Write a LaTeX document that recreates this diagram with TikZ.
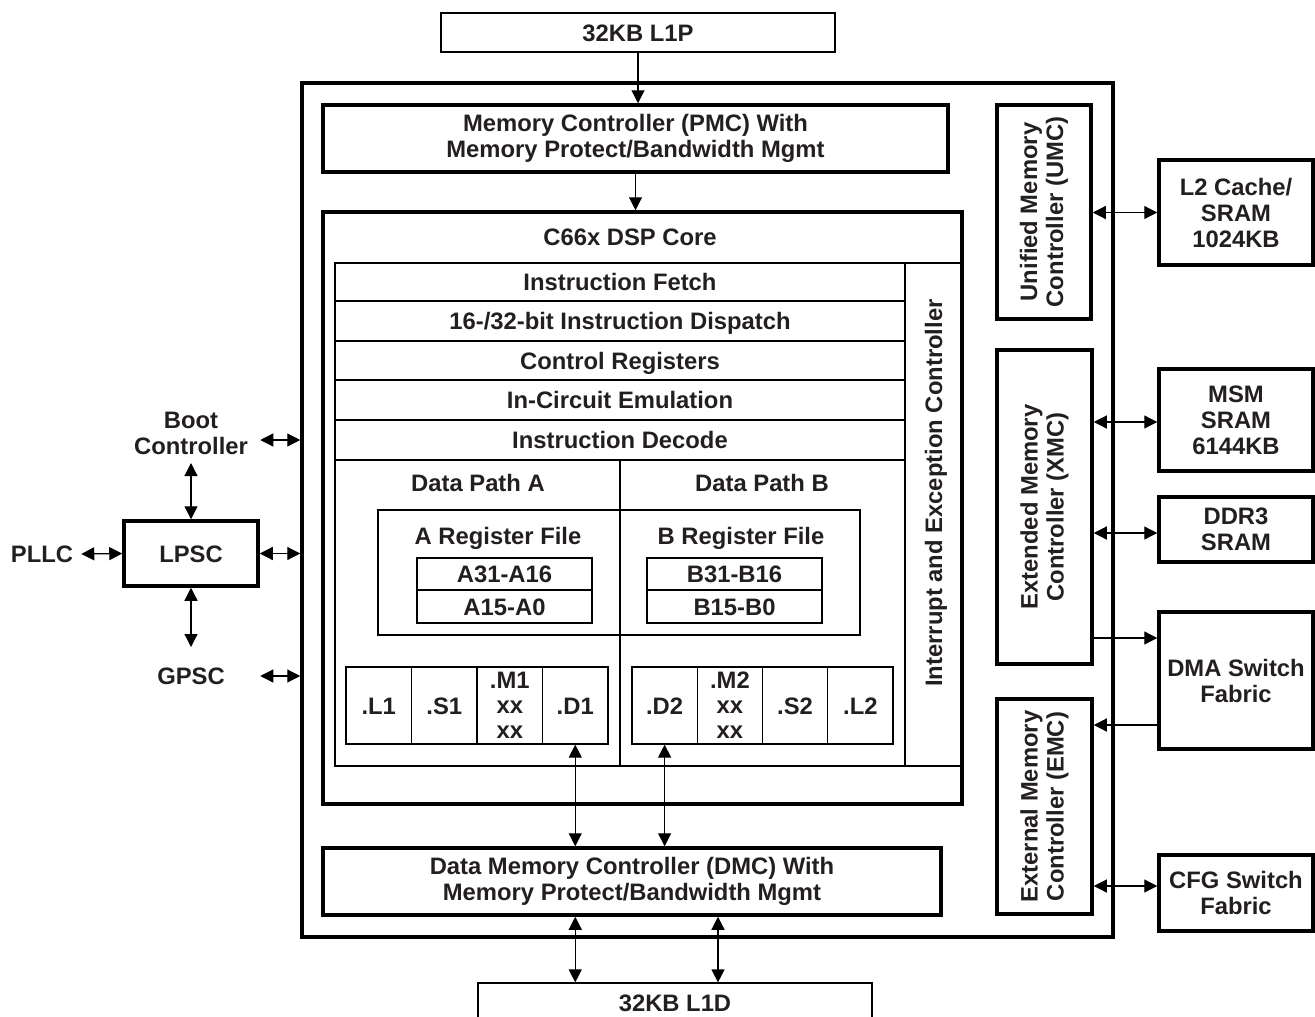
\documentclass[tikz,border=0pt]{standalone}
\usepackage{fontspec}
\setmainfont{Liberation Sans}
\usetikzlibrary{arrows.meta,calc}
\definecolor{ink}{HTML}{231F20}
\begin{document}
\begin{tikzpicture}[x=1pt,y=-1pt,
  every node/.style={font=\fontsize{23.8}{26}\selectfont\bfseries, text=ink, inner sep=0pt},
  sl/.style={text height=17pt, text depth=0pt},
  thickbox/.style={draw=black, line width=3.5pt, align=center},
  thinbox/.style={draw=black, line width=1.2pt, align=center},
  lbl/.style={align=center},
  rot/.style={rotate=90, align=center},
  thinline/.style={draw=black, line width=1.2pt},
  arr/.style={line width=1.2pt, -{Triangle[length=13pt,width=13pt]}},
  dbl/.style={line width=1.2pt, {Triangle[length=13pt,width=13pt]}-{Triangle[length=13pt,width=13pt]}},
]
\useasboundingbox (0,0) rectangle (1315,1017);
\clip (0,0) rectangle (1315,1017);

% top memory
\node[thinbox, sl, minimum width=394pt, minimum height=39pt] (l1p) at (638,32.5) {32KB L1P};

% outer box
\node[thickbox, minimum width=811pt, minimum height=854pt] (outer) at (707.5,510) {};

% PMC
\node[thickbox, minimum width=625pt, minimum height=67pt] (pmc) at (635.5,138.5) {Memory Controller (PMC) With\\Memory Protect/Bandwidth Mgmt};

% core
\node[thickbox, minimum width=639pt, minimum height=592pt] (core) at (642.5,508) {};
\node[sl] (coretitle) at (630,237) {C66x DSP Core};
\node[thinbox, minimum width=627pt, minimum height=503pt] (inner) at (648.5,514.5) {};
\draw[thinline] (905,263) -- (905,766);
\draw[thinline] (620,460) -- (620,766);

% rows
\node[thinbox, sl, minimum width=570pt, minimum height=38pt] (r1) at (620,282) {Instruction Fetch};
\node[thinbox, sl, minimum width=570pt, minimum height=40pt] (r2) at (620,321) {16-/32-bit Instruction Dispatch};
\node[thinbox, sl, minimum width=570pt, minimum height=39pt] (r3) at (620,360.5) {Control Registers};
\node[thinbox, sl, minimum width=570pt, minimum height=40pt] (r4) at (620,400) {In-Circuit Emulation};
\node[thinbox, sl, minimum width=570pt, minimum height=40pt] (r5) at (620,440) {Instruction Decode};

\node[rot, sl] (iec) at (933.5,493) {Interrupt and Exception Controller};

% data paths
\node[sl] (dpa) at (478,483) {Data Path A};
\node[sl] (dpb) at (762,483) {Data Path B};
\node[thinbox, minimum width=482pt, minimum height=125pt] (rf) at (619,572.5) {};
\node[sl] (arf) at (498,536) {A Register File};
\node[sl] (brf) at (741,536) {B Register File};
\node[thinbox, sl, minimum width=175pt, minimum height=32pt] (a31) at (504.5,574) {A31-A16};
\node[thinbox, sl, minimum width=175pt, minimum height=33pt] (a15) at (504.5,606.5) {A15-A0};
\node[thinbox, sl, minimum width=175pt, minimum height=32pt] (b31) at (734.5,574) {B31-B16};
\node[thinbox, sl, minimum width=175pt, minimum height=33pt] (b15) at (734.5,606.5) {B15-B0};

% functional units
\begin{scope}[every node/.append style={font=\fontsize{23.8}{25}\selectfont\bfseries}]
\node[thinbox, sl, minimum width=65.5pt, minimum height=77pt] (l1) at (378.75,705.5) {.L1};
\node[thinbox, sl, minimum width=65.5pt, minimum height=77pt] (s1) at (444.25,705.5) {.S1};
\node[thinbox, minimum width=65.5pt, minimum height=77pt] (m1) at (509.75,705.5) {.M1\\xx\\xx};
\node[thinbox, sl, minimum width=65.5pt, minimum height=77pt] (d1) at (575.25,705.5) {.D1};
\node[thinbox, sl, minimum width=65.25pt, minimum height=77pt] (d2) at (664.6,705.5) {.D2};
\node[thinbox, minimum width=65.25pt, minimum height=77pt] (m2) at (729.9,705.5) {.M2\\xx\\xx};
\node[thinbox, sl, minimum width=65.25pt, minimum height=77pt] (s2) at (795.1,705.5) {.S2};
\node[thinbox, sl, minimum width=65.25pt, minimum height=77pt] (l2u) at (860.4,705.5) {.L2};
\end{scope}

% DMC
\node[thickbox, minimum width=618pt, minimum height=67pt] (dmc) at (632,881.5) {Data Memory Controller (DMC) With\\Memory Protect/Bandwidth Mgmt};

% L1D
\node[thinbox, sl, minimum width=394pt, minimum height=39pt] (l1d) at (675,1002.5) {32KB L1D};

% right controllers
\node[thickbox, minimum width=94pt, minimum height=214pt] (umc) at (1044,212) {};
\node[rot] (umct) at (umc.center) {Unified Memory\\Controller (UMC)};
\node[thickbox, minimum width=95pt, minimum height=314pt] (xmc) at (1044.5,507) {};
\node[rot] (xmct) at (xmc.center) {Extended Memory\\Controller (XMC)};
\node[thickbox, minimum width=95pt, minimum height=215pt] (emc) at (1044.5,806.5) {};
\node[rot] (emct) at (emc.center) {External Memory\\Controller (EMC)};

% right memories
\node[thickbox, minimum width=154pt, minimum height=105pt] (l2) at (1236,212.5) {L2 Cache/\\SRAM\\1024KB};
\node[thickbox, minimum width=154pt, minimum height=102pt] (msm) at (1236,420) {MSM\\SRAM\\6144KB};
\node[thickbox, minimum width=154pt, minimum height=65pt] (ddr) at (1236,529.5) {DDR3\\SRAM};
\node[thickbox, minimum width=154pt, minimum height=137pt] (dma) at (1236,680.5) {DMA Switch\\Fabric};
\node[thickbox, minimum width=154pt, minimum height=76pt] (cfg) at (1236,893) {CFG Switch\\Fabric};

% left side
\node[lbl] (boot) at (191,433) {Boot\\Controller};
\node[thickbox, sl, minimum width=134pt, minimum height=65pt] (lpsc) at (191,553.5) {LPSC};
\node[sl] (pllc) at (42,554) {PLLC};
\node[sl] (gpsc) at (191,676) {GPSC};

% connectors left
\draw[dbl] ($(boot -| outer.west)+(-40,7)$) -- ($(boot -| outer.west)+(0,7)$);
\draw[dbl] ($(boot.center)+(0,30)$) -- (lpsc.north);
\draw[dbl] (lpsc.south) -- ($(gpsc.center)+(0,-29)$);
\draw[dbl] ($(pllc.east)+(8,0)$) -- (lpsc.west);
\draw[dbl] (lpsc.east) -- (lpsc.east -| outer.west);
\draw[dbl] ($(gpsc -| outer.west)+(-40,0)$) -- (gpsc -| outer.west);

% connectors vertical
\draw[arr] (l1p.south) -- (l1p.south |- pmc.north);
\draw[arr] (pmc.south) -- (pmc.south |- core.north);
\draw[dbl] (d1.south) -- (d1.south |- dmc.north);
\draw[dbl] (d2.south) -- (d2.south |- dmc.north);
\draw[dbl] (dmc.south -| d1.south) -- (l1d.north -| d1.south);
\coordinate (dx) at ($(dmc.south)+(86,0)$);
\draw[dbl] (dx) -- (dx |- l1d.north);

% connectors right
\draw[dbl] (umc.east |- l2.west) -- (l2.west);
\draw[dbl] ($(xmc.east |- msm.west)+(0,2)$) -- ($(msm.west)+(0,2)$);
\draw[dbl] ($(xmc.east |- ddr.west)+(0,3.5)$) -- ($(ddr.west)+(0,3.5)$);
\draw[arr] ($(xmc.east |- dma.west)+(0,-42.5)$) -- ($(dma.west)+(0,-42.5)$);
\draw[arr] ($(dma.west)+(0,44.5)$) -- ($(emc.east |- dma.west)+(0,44.5)$);
\draw[dbl] ($(emc.east |- cfg.west)+(0,-7)$) -- ($(cfg.west)+(0,-7)$);
\end{tikzpicture}
\end{document}
